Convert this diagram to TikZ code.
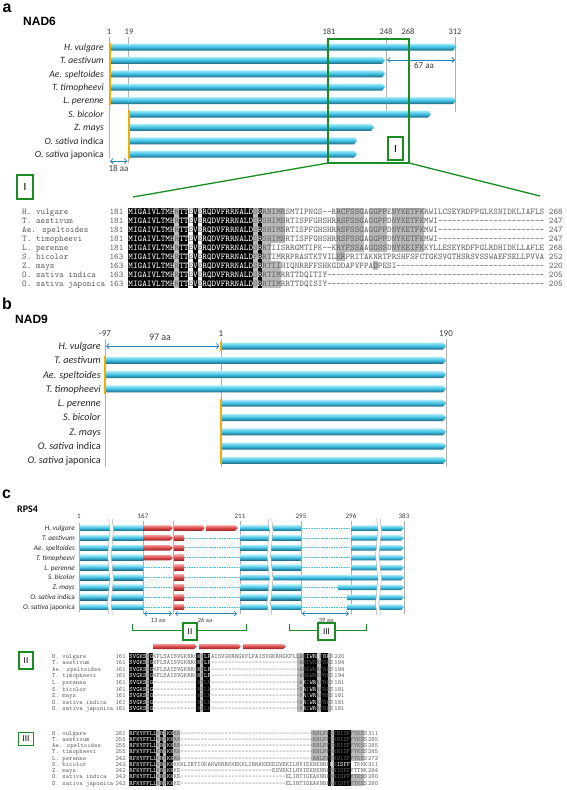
\documentclass[tikz,border=0pt]{standalone}
\usepackage{fontspec}
\setmainfont{Carlito}
\newfontfamily\arialf{Liberation Sans}
\usetikzlibrary{arrows.meta}
\definecolor{barT}{RGB}{165,234,250}
\definecolor{barM}{RGB}{60,190,225}
\definecolor{barB}{RGB}{30,100,125}
\definecolor{redT}{RGB}{245,150,150}
\definecolor{redM}{RGB}{215,70,70}
\definecolor{redB}{RGB}{150,35,35}
\definecolor{orng}{RGB}{245,172,0}
\definecolor{grn}{RGB}{25,140,35}
\definecolor{arrb}{RGB}{40,130,190}
\definecolor{dashc}{RGB}{70,190,235}
\definecolor{tickc}{RGB}{175,175,175}
\definecolor{tickt}{RGB}{60,60,60}
\definecolor{hlg}{RGB}{185,185,185}
\definecolor{alt}{RGB}{95,95,95}

\newcommand\dsh{\hbox{-}}
\newcommand\dT{\dsh\dsh\dsh\dsh\dsh\dsh\dsh\dsh\dsh\dsh}
\newcommand\dF{\dsh\dsh\dsh\dsh\dsh}
\newcommand\cbar[4]{\shade[top color=barT,bottom color=barB,middle color=barM] ({#1},{#3-#4/2}) -- ({#2-3},{#3-#4/2}) -- ({#2},{#3}) -- ({#2-3},{#3+#4/2}) -- ({#1},{#3+#4/2}) -- cycle;}
\newcommand\fbar[4]{\shade[top color=barT,bottom color=barB,middle color=barM] ({#1},{#3-#4/2}) rectangle ({#2},{#3+#4/2});}
\newcommand\rbar[4]{\shade[top color=redT,bottom color=redB,middle color=redM] ({#1},{#3-#4/2}) -- ({#2-3},{#3-#4/2}) -- ({#2},{#3}) -- ({#2-3},{#3+#4/2}) -- ({#1},{#3+#4/2}) -- cycle;}
\newcommand\rbox[4]{\shade[top color=redT,bottom color=redB,middle color=redM] ({#1},{#3-#4/2}) rectangle ({#2},{#3+#4/2});}
\newcommand\wave[1]{%
  \draw[white, line width=3.2pt] ({#1},519) sin ++(1.6,12) cos ++(-1.6,12) sin ++(-1.6,12) cos ++(1.6,12) sin ++(1.6,12) cos ++(-1.6,12) sin ++(-1.6,12) cos ++(1.6,12);
  \draw[tickc, line width=0.5pt] ({#1-1.8},519) sin ++(1.6,12) cos ++(-1.6,12) sin ++(-1.6,12) cos ++(1.6,12) sin ++(1.6,12) cos ++(-1.6,12) sin ++(-1.6,12) cos ++(1.6,12);
  \draw[tickc, line width=0.5pt] ({#1+1.8},519) sin ++(1.6,12) cos ++(-1.6,12) sin ++(-1.6,12) cos ++(1.6,12) sin ++(1.6,12) cos ++(-1.6,12) sin ++(-1.6,12) cos ++(1.6,12);}

\tikzset{
  lbl/.style={inner sep=0pt, anchor=base east, text=black!85},
  tk/.style={inner sep=0pt, anchor=base, text=tickt},
  dimarr/.style={arrb, line width=0.8pt, >={Straight Barb[length=2.5pt,width=5pt]}, <->},
  gline/.style={tickc, line width=0.7pt},
  orline/.style={orng, line width=2pt},
  gbox/.style={draw=grn, line width=1.3pt, inner sep=0pt, fill=white},
  alnt/.style={inner sep=0pt, anchor=base west, text=alt, font=\fontsize{\afs}{\afs}\selectfont\ttfamily},
  dline/.style={dashc, line width=0.7pt, dash pattern=on 1.5pt off 1pt},
  plet/.style={inner sep=0pt, anchor=base west, font=\arialf\bfseries\fontsize{16}{16}\selectfont},
}

% colour each residue: white in the black (conserved) columns
\newcount\colc
\newcommand\colseq[1]{\colc=0 \colseqi#1\relax}
\def\colseqi#1{\ifx#1\relax\else\advance\colc by 1 \ifcsname bk\aid @\the\colc\endcsname\textcolor{white}{#1}\else#1\fi\expandafter\colseqi\fi}

\newcommand\drawaln[3]{%
  \foreach \hra/\hrb/\hca/\hcb in #3 {\fill[hlg] ({\axs+(\hca-1)*\acw},{\ay+(\hra-1.5)*\ady}) rectangle ({\axs+\hcb*\acw},{\ay+(\hrb-0.5)*\ady});}
  \foreach \hca/\hcb in #2 {%
    \fill[black] ({\axs+(\hca-1)*\acw},{\ay-0.5*\ady}) rectangle ({\axs+\hcb*\acw},{\ay+8.5*\ady});
    \foreach \kk in {\hca,...,\hcb} {\expandafter\xdef\csname bk\aid @\kk\endcsname{}}%
  }
  \foreach \rw/\nm/\sn/\sq/\ena in #1 {
    \node[alnt] (n\aid\rw) at ({\axn},{\ay+(\rw-1)*\ady+\abo}) {\nm};
    \node[alnt, anchor=base east] (s\aid\rw) at ({\axn+22*\acw},{\ay+(\rw-1)*\ady+\abo}) {\sn};
    \node[alnt] (q\aid\rw) at ({\axs},{\ay+(\rw-1)*\ady+\abo}) {\expandafter\colseq\expandafter{\sq}};
    \node[alnt] (e\aid\rw) at ({\axs+(\alen+1)*\acw},{\ay+(\rw-1)*\ady+\abo}) {\ena};
  }
}

\def\spnames{1/{\textit{H. vulgare}},2/{\textit{T. aestivum}},3/{\textit{Ae. speltoides}},4/{\textit{T. timopheevi}},5/{\textit{L. perenne}},6/{\textit{S. bicolor}},7/{\textit{Z. mays}},8/{\textit{O. sativa} indica},9/{\textit{O. sativa} japonica}}

\def\rowsI{%
1/H. vulgare/181/MIGAIVLTMHRTTEVERQDVFRRNALDSRRNIMRSMTIPNGS\dsh\dsh RRCFSSGAGGPPENYKETFKRWILCSEYRDFPGLKSNIDKLIAFLS/268,%
2/T. aestivum/181/MIGAIVLTMHRTTEVERQDVFRRNALDSRSHIMNRTISPFGHSHRRSFSSGAGGPPDNYKETFKMWI\dT\dT\dsh\dsh\dsh/247,%
3/Ae. speltoides/181/MIGAIVLTMHRTTEVERQDVFRRNALDSRSHIMNRTISPFGHSHRRSFSSGAGGPPDNYKETFKMWI\dT\dT\dsh\dsh\dsh/247,%
4/T. timopheevi/181/MIGAIVLTMHRTTEVERQDVFRRNALDSRSHIMNRTISPFGHSHRRSFSSGAGGPPDNYKETFKMWI\dT\dT\dsh\dsh\dsh/247,%
5/L. perenne/181/MIGAIVLTMHRTTEVERQDVFRRNALDSRRTIISRRGMTIPK\dsh\dsh KRYFSSAAGGSSDNYKEIFKKYLLESEYRDFPGLRDHIDKLLAFLE/268,%
6/S. bicolor/163/MIGAIVLTMHRTTEVERQDVFRRNALDFRRTIMRRPRASTKTVILERPRITAKNRTPRSHFSFCTGKSVGTHSRSVSSWAEFSELLPVVA/252,%
7/Z. mays/163/MIGAIVLTMHRTTEVERQDVFRRNALDSRRTIIHIQNRRFFSHKGDDAPVPPADPESI\dT\dT\dT\dsh\dsh/220,%
8/O. sativa indica/163/MIGAIVLTMHRTTEVERQDVFRRNALDSRRTIMRRTTDQITIY\dT\dT\dT\dT\dF\dsh\dsh/205,%
9/O. sativa japonica/163/MIGAIVLTMHRTTEVERQDVFRRNALDSRRTIMRRTTDQISIY\dT\dT\dT\dT\dF\dsh\dsh/205}
\def\blkI{1/10,12/13,15/15,17/27,29/29}
\def\gryI{1/9/11/11,1/9/28/28,1/4/30/34,5/6/30/31,7/9/30/33,1/6/46/47,1/5/48/51,1/5/53/56,1/5/58/64,7/7/54/54}

\def\rowsII{%
1/H. vulgare/161/SVGKSIGKFLSAISVGKRRGKFLPAISVGKRRGKFLPAISVGKRRGKFLLARIWRRFRKS/220,%
2/T. aestivum/161/SVGKSIGKFLSAISVGKRRGKFLF\dT\dT\dF\dsh ARIWRRFRKS/194,%
3/Ae. speltoides/161/SVGKSIGKFLSAISVGKRRGKFLF\dT\dT\dF\dsh ARIWRRFRKS/194,%
4/T. timopheevi/161/SVGKSIGKFLSAISVGKRRGKFLF\dT\dT\dF\dsh ARIWRRFRKS/194,%
5/L. perenne/161/SVGKSIG\dT\dsh\dsh\dsh KFLF\dT\dT\dF\dsh AKIWRRFRKS/181,%
6/S. bicolor/161/SVGKSIG\dT\dsh\dsh\dsh KFLF\dT\dT\dF\dsh VRIWRRFRKS/181,%
7/Z. mays/161/SVGKSIG\dT\dsh\dsh\dsh KFLF\dT\dT\dF\dsh VRIWRRFRKS/181,%
8/O. sativa indica/161/SVGKSIG\dT\dsh\dsh\dsh KFLF\dT\dT\dF\dsh VRIWRRFRKS/181,%
9/O. sativa japonica/161/SVGKSIG\dT\dsh\dsh\dsh KFLF\dT\dT\dF\dsh VRIWRRFRKS/181}
\def\blkII{1/5,7/7,21/21,23/24,53/56,58/59}
\def\gryII{1/9/6/6,1/9/22/22,1/9/51/52,1/9/57/57,1/9/60/60}

\def\rowsIII{%
1/H. vulgare/281/RFKYFFLLKRPKKRN\dT\dT\dT\dF\dsh\dsh\dsh\dsh RNLPFSKNISFFYKSS/311,%
2/T. aestivum/255/RFKYFFLLKRPKKRN\dT\dT\dT\dF\dsh\dsh\dsh\dsh RNLPFSKNISFFYKSS/285,%
3/Ae. speltoides/255/RFKYFFLLKRPKKRN\dT\dT\dT\dF\dsh\dsh\dsh\dsh RNLPFSKNISFFYKSS/285,%
4/T. timopheevi/255/RFKYFFLLKRPKKRN\dT\dT\dT\dF\dsh\dsh\dsh\dsh RNLPFSKNISFFYKSS/285,%
5/L. perenne/242/RFKYFFLLKRPKKRN\dT\dT\dT\dF\dsh\dsh\dsh\dsh RNLPFSKNISFFYKSS/272,%
6/S. bicolor/242/RFKYFFLLKRPKKKKKLIRTIGKAKWKRRKKEKKLIRRKKEKEGVEKILNVIEKNENRKRNISFFYTKKK/311,%
7/Z. mays/242/RFKYFFLLKRPKKKE\dT\dT\dF\dsh\dsh EGVEKILNVIEKNENRKRNISFFYTTNK/284,%
8/O. sativa indica/242/RFKYFFLLKRPKKKE\dT\dT\dT\dsh ELIRTIGEAKNRKRNISFFYTKSS/280,%
9/O. sativa japonica/242/RFKYFFLLKRPKKKE\dT\dT\dT\dsh ELIRTIGEAKNRKRNISFFYTKSS/280}
\def\blkIII{1/8,10/10,12/13,60/60,62/66}
\def\gryIII{1/9/9/9,1/9/11/11,1/5/14/15,1/5/55/59,1/9/61/61,1/5/67/70,8/9/67/70}

\begin{document}
\begin{tikzpicture}[x=1pt,y=-1pt]
\useasboundingbox (0,0) rectangle (567,790);

% ================= panel a =================
\node[plet] (la) at (2.5,12.5) {a};
\node[inner sep=0pt, anchor=base west, font=\arialf\bfseries\fontsize{12}{12}\selectfont] (nad6) at (23,25.5) {NAD6};
\foreach \x/\t in {109/1,129/19,329/181,386/248,408/268,455/312}
  \node[tk, font=\fontsize{8.5}{8.5}\selectfont] (ta\t) at (\x,34.5) {\t};
\draw[gline] (109,37) -- (109,158);
\draw[gline] (128.5,37) -- (128.5,163);
\draw[gline] (386,37) -- (386,111);
\draw[gline] (455.5,37) -- (455.5,112);
\foreach \i/\xa/\xb in {1/110/456,2/110/385,3/110/385,4/110/385,5/110/456,6/129.5/431,7/129.5/374,8/129.5/357,9/129.5/357}
  {\cbar{\xa}{\xb}{47+13.4*(\i-1)}{7}}
\foreach \i/\nm in \spnames
  \node[lbl, font=\fontsize{9.6}{9.6}\selectfont] (sa\i) at (104,{47+13.4*(\i-1)+3.2}) {\nm};
\draw[orline] (109.5,42.5) -- (109.5,105);
\draw[orline] (129,109.5) -- (129,158.5);
\draw[dimarr] (110,161) -- (127.5,161);
\node[inner sep=0pt, font=\fontsize{9}{9}\selectfont, text=tickt] (aa18) at (118.5,168.5) {18 aa};
\draw[dimarr] (387,60) -- (455,60);
\node[inner sep=0pt, font=\fontsize{9}{9}\selectfont, text=tickt] (aa67) at (424,65.5) {67 aa};
\draw[grn, line width=1.3pt] (328,39) rectangle (409,163);
\coordinate (zl) at (133,197);
\coordinate (zr) at (540,196);
\draw[grn, line width=1.3pt] (328,163) -- (zl);
\draw[grn, line width=1.3pt] (409,163) -- (zr);
\node[gbox, minimum width=15pt, minimum height=23pt, font=\fontsize{11}{11}\selectfont] (bI) at (395.5,148.5) {I};
\node[gbox, minimum width=16pt, minimum height=24pt, font=\fontsize{11}{11}\selectfont] (bIl) at (25,187) {I};

% alignment I
\def\aid{I}\def\axn{22}\def\acw{4.62}\def\ay{212}\def\ady{8.9}\def\abo{2.9}\def\afs{8.8}\def\alen{90}
\pgfmathsetmacro\axs{\axn+23*\acw}
\drawaln{\rowsI}{\blkI}{\gryI}

% ================= panel b =================
\node[plet] (lb) at (2,309) {b};
\node[inner sep=0pt, anchor=base west, font=\arialf\bfseries\fontsize{12}{12}\selectfont] (nad9) at (15,323) {NAD9};
\foreach \x/\t/\n in {105/-97/m,221/1/o,446/190/e}
  \node[tk, font=\fontsize{9}{9}\selectfont] (tb\n) at (\x,336) {\t};
\draw[gline] (105,339) -- (105,467);
\draw[gline] (221,339) -- (221,467);
\draw[gline] (446,339) -- (446,467);
\foreach \i/\xa in {1/222,2/106,3/106,4/106,5/222,6/222,7/222,8/222,9/222}
  {\cbar{\xa}{446}{346+14.3*(\i-1)}{7}}
\foreach \i/\nm in \spnames
  \node[lbl, font=\fontsize{10.2}{10.2}\selectfont] (sb\i) at (101,{346+14.3*(\i-1)+3.4}) {\nm};
\draw[orline] (221,341.5) -- (221,350.5);
\draw[orline] (105,355.5) -- (105,393.5);
\draw[orline] (221,398.5) -- (221,464);
\draw[dimarr] (106,346) -- (219.5,346);
\node[inner sep=0pt, font=\fontsize{10}{10}\selectfont, text=tickt] (aa97) at (160,337.5) {97 aa};

% ================= panel c =================
\node[plet] (lc) at (2,498) {c};
\node[inner sep=0pt, anchor=base west, font=\bfseries\fontsize{10}{10}\selectfont] (rps4) at (17,512) {RPS4};
\foreach \x/\t in {79/1,143/167,240/211,301/295,351/296,404/383}
  \node[tk, font=\fontsize{7}{7}\selectfont] (tc\t) at (\x,518.5) {\t};
\foreach \x in {143,173,240,301,351,404}
  \draw[tickc, line width=1pt] (\x,521) -- (\x,614);
\foreach \i/\nm in \spnames
  \node[lbl, font=\fontsize{7.2}{7.2}\selectfont] (sc\i) at (75,{528+9.9*(\i-1)+2.4}) {\nm};
\foreach \i in {1,...,9} {
  \fbar{80}{143}{528+9.9*(\i-1)}{5.5}
}
\rbar{143}{173}{528}{5.5}
\rbar{174}{205}{528}{5.5}
\rbar{206}{238}{528}{5.5}
\foreach \i in {2,3,4} {
  \rbar{143}{173}{528+9.9*(\i-1)}{5.5}
}
\foreach \i in {5,...,9} {
  \draw[dline] (143,{528+9.9*(\i-1)}) -- (174,{528+9.9*(\i-1)});
}
\foreach \i in {2,...,9} {
  \rbox{174}{184}{528+9.9*(\i-1)}{5.5}
  \draw[dline] (184,{528+9.9*(\i-1)}) -- (240,{528+9.9*(\i-1)});
}
\foreach \i in {1,...,5,7,8,9} {
  \fbar{240}{301}{528+9.9*(\i-1)}{5.5}
}
\foreach \i/\xe in {1/351,2/351,3/351,4/351,5/351,7/338,8/347,9/347} {
  \draw[dline] (301,{528+9.9*(\i-1)}) -- (\xe,{528+9.9*(\i-1)});
  \cbar{\xe}{404}{528+9.9*(\i-1)}{5.5}
}
\cbar{240}{404}{577.5}{5.5}
\wave{110.5}
\wave{270}
\wave{378.5}
\draw[orng, line width=1.6pt] (79.5,523) -- (79.5,612);
\draw[dimarr, line width=0.6pt] (144,613.5) -- (172,613.5);
\draw[dimarr, line width=0.6pt] (175,613.5) -- (237,613.5);
\draw[dimarr, line width=0.6pt] (302,613.5) -- (349,613.5);
\node[inner sep=0pt, font=\fontsize{6.5}{6.5}\selectfont, text=tickt] (aa13) at (158,620.5) {13 aa};
\node[inner sep=0pt, font=\fontsize{6.5}{6.5}\selectfont, text=tickt] (aa26) at (205,620.5) {26 aa};
\node[inner sep=0pt, font=\fontsize{6.5}{6.5}\selectfont, text=tickt] (aa39) at (326,620.5) {39 aa};
\node[gbox, minimum width=14pt, minimum height=17pt, font=\fontsize{9}{9}\selectfont] (bII) at (190,631.5) {II};
\node[gbox, minimum width=17pt, minimum height=17pt, font=\fontsize{9}{9}\selectfont] (bIII) at (326.5,631.5) {III};
\coordinate (b2l) at (132,624);
\coordinate (b2r) at (246,624);
\coordinate (b3l) at (289,624);
\coordinate (b3r) at (366,624);
\draw[grn, line width=1pt] (b2l) -- ++(0,6) -- (bII.west |- 0,630);
\draw[grn, line width=1pt] (b2r) -- ++(0,6) -- (bII.east |- 0,630);
\draw[grn, line width=1pt] (b3l) -- ++(0,6) -- (bIII.west |- 0,630);
\draw[grn, line width=1pt] (b3r) -- ++(0,6) -- (bIII.east |- 0,630);
\rbar{153}{197}{646.5}{5}
\rbar{199}{241}{646.5}{5}
\rbar{243}{286}{646.5}{5}
\node[gbox, minimum width=14pt, minimum height=17pt, font=\fontsize{9}{9}\selectfont] (bIIl) at (26,660.5) {II};
\node[gbox, minimum width=15pt, minimum height=13pt, font=\fontsize{9}{9}\selectfont] (bIIIl) at (26,739) {III};

% alignment II
\def\aid{II}\def\axn{52}\def\acw{3.36}\def\ay{656}\def\ady{6.6}\def\abo{2.1}\def\afs{6.4}\def\alen{60}
\pgfmathsetmacro\axs{\axn+23*\acw}
\drawaln{\rowsII}{\blkII}{\gryII}

% alignment III
\def\aid{III}\def\axn{52}\def\acw{3.36}\def\ay{733}\def\ady{6.25}\def\abo{2.1}\def\afs{6.4}\def\alen{70}
\pgfmathsetmacro\axs{\axn+23*\acw}
\drawaln{\rowsIII}{\blkIII}{\gryIII}
\end{tikzpicture}
\end{document}
